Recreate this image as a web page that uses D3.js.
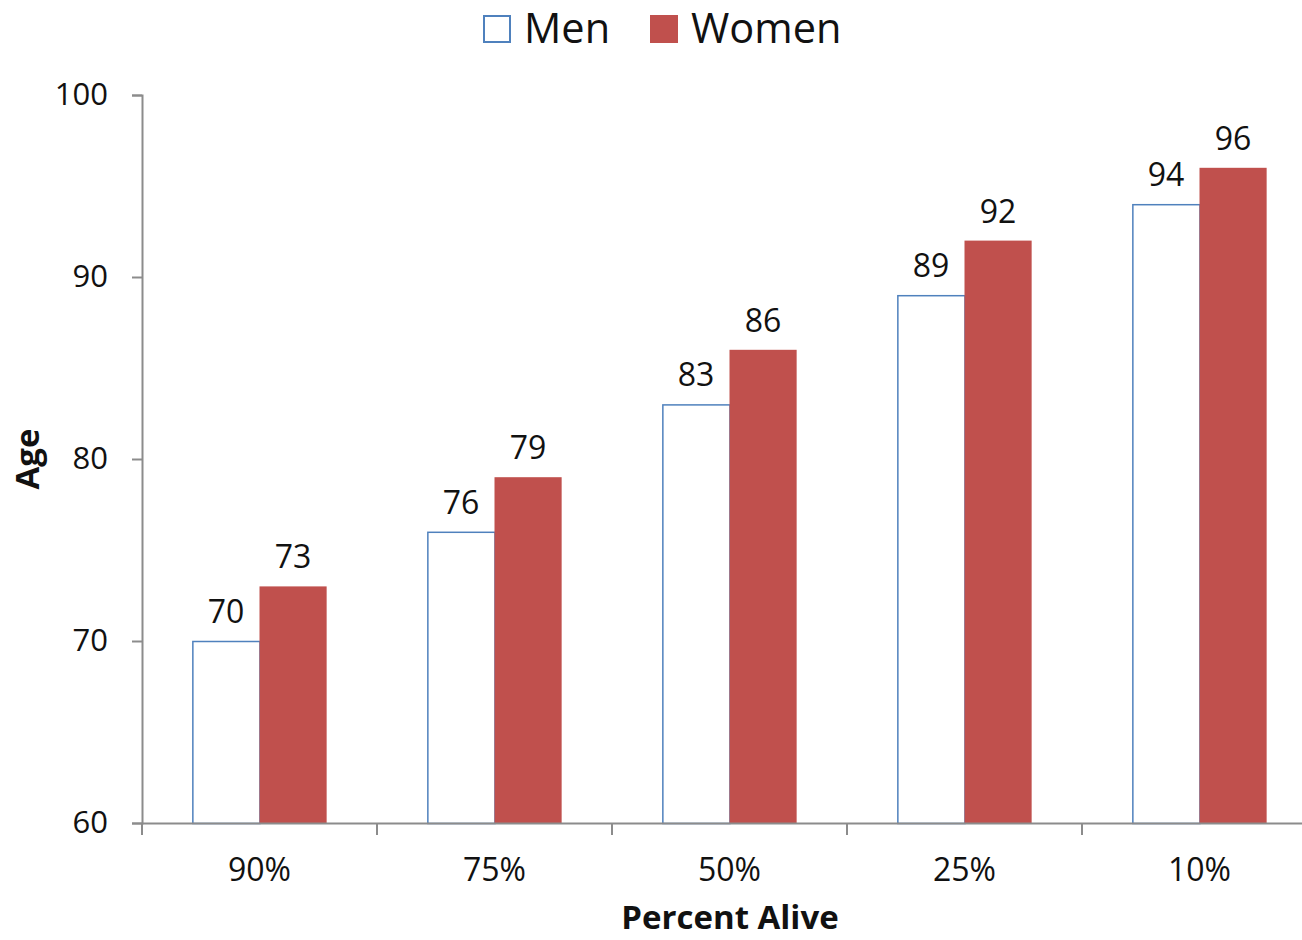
<!DOCTYPE html>
<html lang="en">
<head>
  <meta charset="UTF-8">
  <title>Age by Percent Alive</title>
  <script src="https://d3js.org/d3.v7.min.js"></script>
  <style>
    body { margin: 0; background: #fff; }
    svg { display: block; font-family: "Open Sans", sans-serif; }
  </style>
</head>
<body>
  <div id="chart"></div>
  <script>
    // Data
    const categories = ["90%", "75%", "50%", "25%", "10%"];
    const men = [70, 76, 83, 89, 94];
    const women = [73, 79, 86, 92, 96];
    const seriesNames = ["Men", "Women"];
    const yTicks = [60, 70, 80, 90, 100];

    const width = 1302, height = 940;
    const margin = { top: 95, left: 142, bottom: 117, right: -15 };

    const blue = "#4f81bd", red = "#c0504d", axisGrey = "#8c8c8c";

    const svg = d3.select("#chart").append("svg")
      .attr("width", width)
      .attr("height", height);

    const x = d3.scaleBand()
      .domain(categories)
      .range([margin.left, width - margin.right]);

    const sub = d3.scaleBand()
      .domain(seriesNames)
      .range([0, x.bandwidth()])
      .paddingOuter(0.75)
      .paddingInner(0);

    const y = d3.scaleLinear()
      .domain([60, 100])
      .range([height - margin.bottom, margin.top]);

    // bars
    const rows = categories.map((c, i) => ({ cat: c, Men: men[i], Women: women[i] }));

    const groups = svg.selectAll(".grp")
      .data(rows)
      .enter().append("g")
      .attr("class", "grp")
      .attr("transform", d => `translate(${x(d.cat)},0)`);

    groups.append("rect")
      .attr("x", sub("Men") + 0.5)
      .attr("y", d => y(d.Men) + 0.5)
      .attr("width", sub.bandwidth())
      .attr("height", d => y(60) - y(d.Men))
      .attr("fill", "#fff")
      .attr("stroke", blue)
      .attr("stroke-width", 1.5);

    groups.append("rect")
      .attr("x", sub("Women"))
      .attr("y", d => y(d.Women))
      .attr("width", sub.bandwidth())
      .attr("height", d => y(60) - y(d.Women))
      .attr("fill", red);

    // value labels
    seriesNames.forEach(s => {
      groups.append("text")
        .attr("x", sub(s) + sub.bandwidth() / 2)
        .attr("y", d => y(d[s]) - 18)
        .attr("text-anchor", "middle")
        .attr("font-size", 32)
        .attr("fill", "#111")
        .text(d => d[s]);
    });

    // y axis
    const yAxis = svg.append("g")
      .attr("transform", `translate(${margin.left},0)`)
      .call(d3.axisLeft(y).tickValues(yTicks).tickSize(10).tickPadding(24));
    yAxis.select(".domain").attr("stroke", axisGrey).attr("stroke-width", 2);
    yAxis.selectAll(".tick line").attr("stroke", axisGrey).attr("stroke-width", 2);
    yAxis.selectAll("text").attr("font-size", 31).attr("fill", "#111")
      .attr("font-family", "Open Sans, sans-serif");

    // x axis
    const xAxis = svg.append("g")
      .attr("transform", `translate(0,${y(60)})`)
      .call(d3.axisBottom(x).tickSize(0).tickPadding(35));
    xAxis.select(".domain").attr("stroke", axisGrey).attr("stroke-width", 2);
    xAxis.selectAll("text").attr("font-size", 32).attr("fill", "#111")
      .attr("font-family", "Open Sans, sans-serif");
    // category separators
    const seps = categories.map(c => x(c));
    svg.selectAll(".sep")
      .data(seps)
      .enter().append("line")
      .attr("x1", d => d).attr("x2", d => d)
      .attr("y1", y(60)).attr("y2", y(60) + 12)
      .attr("stroke", axisGrey).attr("stroke-width", 2);

    // axis titles
    svg.append("text")
      .attr("transform", `translate(39,${(y(60) + y(100)) / 2}) rotate(-90)`)
      .attr("text-anchor", "middle")
      .attr("font-size", 33)
      .attr("font-weight", "bold")
      .attr("fill", "#111")
      .text("Age");

    svg.append("text")
      .attr("x", 730)
      .attr("y", 929)
      .attr("text-anchor", "middle")
      .attr("font-size", 33)
      .attr("font-weight", "bold")
      .attr("fill", "#111")
      .text("Percent Alive");

    // legend
    const legend = svg.append("g");
    const legendItems = [
      { name: "Men", x: 483, fill: "#fff", stroke: blue },
      { name: "Women", x: 650, fill: red, stroke: red }
    ];
    legendItems.forEach(it => {
      legend.append("rect")
        .attr("x", it.x + 1).attr("y", 16)
        .attr("width", 26).attr("height", 26)
        .attr("fill", it.fill)
        .attr("stroke", it.stroke)
        .attr("stroke-width", 2);
      legend.append("text")
        .attr("x", it.x + 41)
        .attr("y", 43)
        .attr("font-size", 41.5)
        .attr("fill", "#111")
        .text(it.name);
    });
  </script>
</body>
</html>
